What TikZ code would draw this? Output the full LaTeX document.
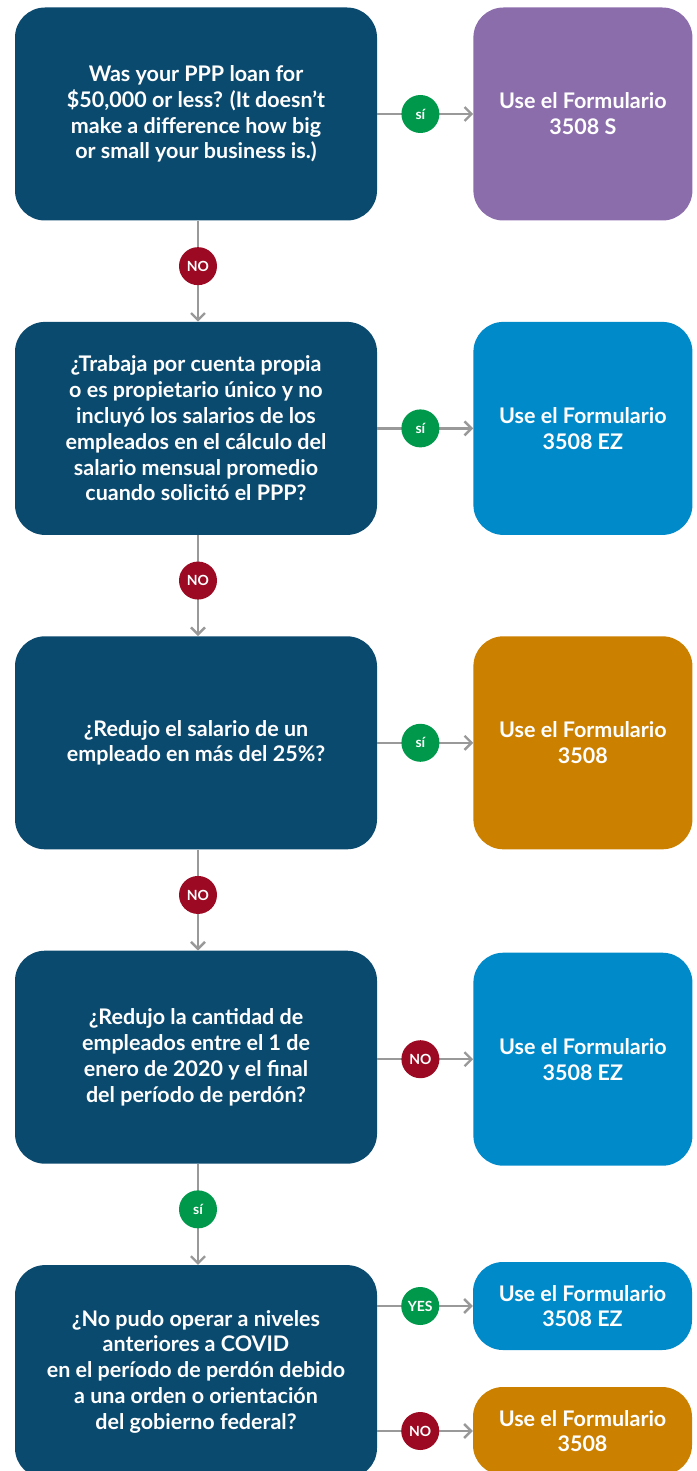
\documentclass[tikz,border=0pt]{standalone}
\usepackage{fontspec}
\setmainfont{Lato}
\usetikzlibrary{arrows.meta,positioning}
\definecolor{qblue}{HTML}{0B4A6F}
\definecolor{rpurple}{HTML}{8C6DAC}
\definecolor{rblue}{HTML}{008ACA}
\definecolor{rorange}{HTML}{CC8000}
\definecolor{yesgreen}{HTML}{00994C}
\definecolor{nored}{HTML}{9B0A22}
\definecolor{linegray}{HTML}{999999}
\tikzstyle{question} = [fill=qblue,text=white,rounded corners=30pt,minimum width=362pt,minimum height=213pt,align=center,font=\fontsize{21.5}{25.8}\selectfont\bfseries]
\tikzstyle{result} = [text=white,rounded corners=30pt,minimum width=219pt,minimum height=213pt,align=center,font=\fontsize{21.5}{25.8}\selectfont\bfseries]
\tikzstyle{badge} = [circle,text=white,minimum size=38pt,inner sep=0,font=\fontsize{14}{16}\selectfont\bfseries]
\tikzstyle{conn} = [-{Straight Barb[length=7pt,width=14pt]},draw=linegray,line width=2.4pt]

\begin{document}
\begin{tikzpicture}[x=1pt,y=-1pt,node distance=101pt and 96pt]
      \useasboundingbox (0,0) rectangle (696,1471);
      % questions
      \node[question] (q1) at (196,114) {Was your PPP loan for\\ \$50,000 or less? (It doesn’t\\ make a difference how big\\ or small your business is.)};
      \node[question,below=of q1] (q2) {¿Trabaja por cuenta propia\\ o es propietario único y no\\ incluyó los salarios de los\\ empleados en el cálculo del\\ salario mensual promedio\\ cuando solicitó el PPP?};
      \node[question,below=of q2] (q3) {¿Redujo el salario de un\\ empleado en más del 25\%?};
      \node[question,below=of q3] (q4) {¿Redujo la cantidad de\\ empleados entre el 1 de\\ enero de 2020 y el final\\ del período de perdón?};
      \node[question,below=of q4] (q5) {¿No pudo operar a niveles\\ anteriores a COVID\\ en el período de perdón debido\\ a una orden o orientación\\ del gobierno federal?};
      % results
      \node[result,fill=rpurple,right=of q1] (r1) {Use el Formulario\\ 3508 S};
      \node[result,fill=rblue,right=of q2] (r2) {Use el Formulario\\ 3508 EZ};
      \node[result,fill=rorange,right=of q3] (r3) {Use el Formulario\\ 3508};
      \node[result,fill=rblue,right=of q4,yshift=-2pt] (r4) {Use el Formulario\\ 3508 EZ};
      \node[result,fill=rblue,minimum height=88pt] (r5a) at (582.5,1306) {Use el Formulario\\ 3508 EZ};
      \node[result,fill=rorange,minimum height=88pt] (r5b) at (582.5,1431) {Use el Formulario\\ 3508};
      % connectors
      \draw[conn] (q1) -- (r1) node[badge,fill=yesgreen,pos=0.45] (b1) {sí};
      \draw[conn] (q2) -- (r2) node[badge,fill=yesgreen,pos=0.45] (b2) {sí};
      \draw[conn] (q3) -- (r3) node[badge,fill=yesgreen,pos=0.45] (b3) {sí};
      \draw[conn] (q4.east |- r4) -- (r4) node[badge,fill=nored,pos=0.45] (b4) {NO};
      \draw[conn] (q5.east |- r5a) -- (r5a) node[badge,fill=yesgreen,pos=0.45] (b5a) {YES};
      \draw[conn] (q5.east |- r5b) -- (r5b) node[badge,fill=nored,pos=0.45] (b5b) {NO};
      \draw[conn] ([xshift=2pt]q1.south) -- ([xshift=2pt]q2.north) node[badge,fill=nored,pos=0.45] (d1) {NO};
      \draw[conn] ([xshift=2pt]q2.south) -- ([xshift=2pt]q3.north) node[badge,fill=nored,pos=0.45] (d2) {NO};
      \draw[conn] ([xshift=2pt]q3.south) -- ([xshift=2pt]q4.north) node[badge,fill=nored,pos=0.45] (d3) {NO};
      \draw[conn] ([xshift=2pt]q4.south) -- ([xshift=2pt]q5.north) node[badge,fill=yesgreen,pos=0.45] (d4) {sí};
    \end{tikzpicture}
\end{document}
